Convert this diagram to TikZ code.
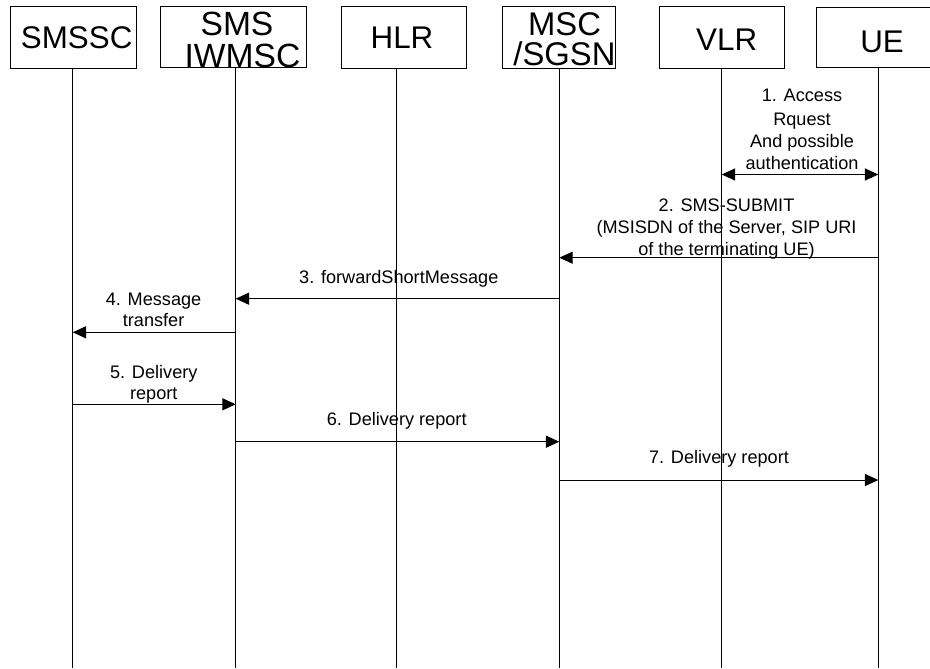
\documentclass[tikz,border=0pt]{standalone}
\usepackage{fontspec}
\setmainfont{Liberation Sans}
\usetikzlibrary{arrows.meta}
\tikzset{
  hdr/.style={font=\fontsize{23.5}{23.5}\selectfont, anchor=base, inner sep=0pt},
  hdrbig/.style={font=\fontsize{25.2}{25.2}\selectfont, anchor=base, inner sep=0pt},
  hdrmid/.style={font=\fontsize{24.6}{24.6}\selectfont, anchor=base, inner sep=0pt},
  lbl/.style={font=\fontsize{13.6}{15}\selectfont, anchor=base, inner sep=0pt},
  hbox/.style={draw, line width=0.75pt, inner sep=0pt},
  life/.style={line width=0.75pt},
  msg/.style={line width=0.75pt, -{Triangle[length=10pt,width=9pt]}},
  bimsg/.style={line width=0.75pt, {Triangle[length=10pt,width=9pt]}-{Triangle[length=10pt,width=9pt]}}
}
\begin{document}
\begin{tikzpicture}[x=0.75pt,y=-0.75pt]
\useasboundingbox[fill=white] (0,0) rectangle (930,668);
% header boxes
\node[hbox, minimum width=94.5pt, minimum height=46.5pt] (smssc) at (73,37) {};
\node[hbox, minimum width=109.5pt, minimum height=45.75pt] (iwmsc) at (233.5,36.5) {};
\node[hbox, minimum width=93.75pt, minimum height=46.5pt] (hlr) at (404,37) {};
\node[hbox, minimum width=84.75pt, minimum height=46.5pt] (msc) at (559.2,37) {};
\node[hbox, minimum width=93.75pt, minimum height=46.5pt] (vlr) at (721.5,37) {};
\node[hbox, minimum width=96pt, minimum height=45pt] (ue) at (880,37) {};
% header texts
\node[hdr] (t-smssc) at (76.7,48) {SMSSC};
\node[hdrbig] (t-sms) at (237,35) {SMS};
\node[hdrbig] (t-iwmsc) at (242.5,67) {IWMSC};
\node[hdr] (t-hlr) at (402,48) {HLR};
\node[hdrmid] (t-msc) at (564.5,35) {MSC};
\node[hdrmid] (t-sgsn) at (564.5,65) {/SGSN};
\node[hdr] (t-vlr) at (726.7,50) {VLR};
\node[hdr] (t-ue) at (882,52) {UE};
% lifeline x positions
\coordinate (Lsmssc) at (72.7,668);
\coordinate (Liwmsc) at (235.7,668);
\coordinate (Lhlr) at (396.7,668);
\coordinate (Lmsc) at (559.3,668);
\coordinate (Lvlr) at (721.7,668);
\coordinate (Lue) at (878.3,668);
\draw[life] (Lsmssc |- smssc.south) -- (Lsmssc);
\draw[life] (Liwmsc |- iwmsc.south) -- (Liwmsc);
\draw[life] (Lhlr |- hlr.south) -- (Lhlr);
\draw[life] (Lmsc |- msc.south) -- (Lmsc);
\draw[life] (Lvlr |- vlr.south) -- (Lvlr);
\draw[life] (Lue |- ue.south) -- (Lue);
% message levels
\coordinate (m1) at (0,174.5);
\coordinate (m2) at (0,257.7);
\coordinate (m3) at (0,298.7);
\coordinate (m4) at (0,332.3);
\coordinate (m5) at (0,404.3);
\coordinate (m6) at (0,441.7);
\coordinate (m7) at (0,480);
% messages
\draw[bimsg] (Lvlr |- m1) -- (Lue |- m1);
\draw[msg] (Lue |- m2) -- (Lmsc |- m2);
\draw[msg] (Lmsc |- m3) -- (Liwmsc |- m3);
\draw[msg] (Liwmsc |- m4) -- (Lsmssc |- m4);
\draw[msg] (Lsmssc |- m5) -- (Liwmsc |- m5);
\draw[msg] (Liwmsc |- m6) -- (Lmsc |- m6);
\draw[msg] (Lmsc |- m7) -- (Lue |- m7);
% labels
\node[lbl] (l1a) at (802,101) {1. Access};
\node[lbl] (l1b) at (802,125) {Rquest};
\node[lbl] (l1c) at (802,147) {And possible};
\node[lbl] (l1d) at (802,169) {authentication};
\node[lbl] (l2a) at (726.5,211.5) {2. SMS-SUBMIT};
\node[lbl] (l2b) at (726.5,233.5) {(MSISDN of the Server, SIP URI};
\node[lbl] (l2c) at (726.5,255.5) {of the terminating UE)};
\node[lbl] (l3) at (398.8,283) {3. forwardShortMessage};
\node[lbl] (l4a) at (153.6,305) {4. Message};
\node[lbl] (l4b) at (153.6,326.5) {transfer};
\node[lbl] (l5a) at (153.8,378) {5. Delivery};
\node[lbl] (l5b) at (153.8,399.5) {report};
\node[lbl] (l6) at (396.7,425) {6. Delivery report};
\node[lbl] (l7) at (719,463.3) {7. Delivery report};
\end{tikzpicture}
\end{document}
